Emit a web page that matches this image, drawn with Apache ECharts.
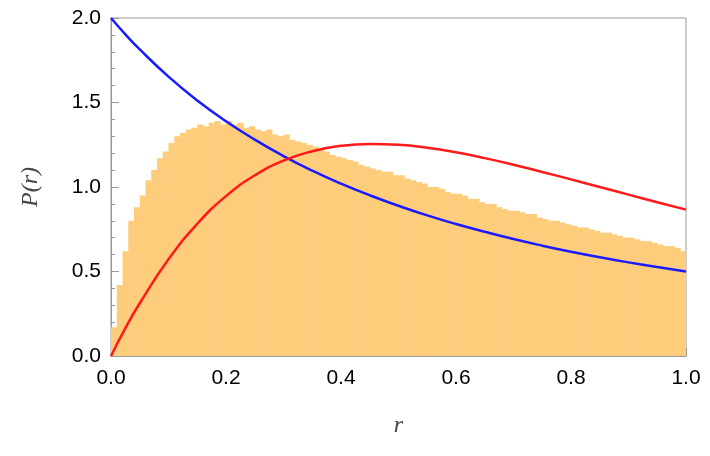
<!DOCTYPE html>
<html><head><meta charset="utf-8">
<script src="https://cdn.jsdelivr.net/npm/echarts@6/dist/echarts.min.js"></script>
<style>html,body{margin:0;padding:0;background:#fff}#c{width:710px;height:456px}</style>
</head><body><div id="c"></div>
<script>
const binStarts = [0,0.01,0.02,0.03,0.04,0.05,0.06,0.07,0.08,0.09,0.10,0.11,0.12,0.13,0.14,0.15,0.16,0.17,0.18,0.19,0.20,0.21,0.22,0.23,0.24,0.25,0.26,0.27,0.28,0.29,0.30,0.31,0.32,0.33,0.34,0.35,0.36,0.37,0.38,0.39,0.40,0.41,0.42,0.43,0.44,0.45,0.46,0.47,0.48,0.49,0.50,0.51,0.52,0.53,0.54,0.55,0.56,0.57,0.58,0.59,0.60,0.61,0.62,0.63,0.64,0.65,0.66,0.67,0.68,0.69,0.70,0.71,0.72,0.73,0.74,0.75,0.76,0.77,0.78,0.79,0.80,0.81,0.82,0.83,0.84,0.85,0.86,0.87,0.88,0.89,0.90,0.91,0.92,0.93,0.94,0.95,0.96,0.97,0.98,0.99];
const histHeights = [
.17,.42,.62,.80,.88,.95,1.04,1.10,1.17,1.21,
1.26,1.30,1.32,1.34,1.35,1.37,1.36,1.38,1.39,1.37,
1.39,1.37,1.38,1.35,1.36,1.34,1.33,1.34,1.31,1.30,
1.31,1.28,1.27,1.26,1.25,1.24,1.22,1.21,1.19,1.18,
1.17,1.16,1.15,1.13,1.12,1.11,1.10,1.09,1.09,1.07,
1.07,1.05,1.04,1.03,1.02,1.00,1.00,0.99,0.97,0.96,
0.96,0.95,0.93,0.93,0.91,0.90,0.90,0.88,0.87,0.86,
0.86,0.85,0.84,0.84,0.82,0.81,0.80,0.80,0.79,0.78,
0.77,0.76,0.76,0.75,0.74,0.73,0.73,0.72,0.71,0.70,
0.70,0.69,0.68,0.68,0.67,0.66,0.65,0.65,0.64,0.62];
const binWidth = 0.01;
const curveX = [0,0.025,0.05,0.1,0.15,0.2,0.25,0.3,0.35,0.4,0.45,0.5,0.55,0.6,0.65,0.7,0.75,0.8,0.85,0.9,0.95,1.0];
const blueY = [2,1.903,1.814,1.653,1.512,1.389,1.28,1.183,1.097,1.020,0.951,0.889,0.832,0.781,0.735,0.692,0.653,0.617,0.584,0.554,0.526,0.5];
const redY  = [0,0.165,0.312,0.572,0.782,0.946,1.069,1.156,1.212,1.244,1.255,1.250,1.232,1.205,1.171,1.132,1.089,1.045,1.000,0.955,0.910,0.866];
const xTicks = ['0.0','0.2','0.4','0.6','0.8','1.0'];
const yTicks = ['0.0','0.5','1.0','1.5','2.0'];

const chart = echarts.init(document.getElementById('c'));
const lab = {color:'#000',fontSize:21,fontFamily:'Liberation Sans, Arial'};
const axLine = {show:true,lineStyle:{color:'#999',width:1}};
chart.setOption({
  animation:false,
  grid:{left:111,right:24,top:18,bottom:100,show:true,borderColor:'#999',borderWidth:1},
  xAxis:{type:'value',min:0,max:1,interval:0.2,axisLine:axLine,splitLine:{show:false},
    axisTick:{inside:true,length:8,lineStyle:{color:'#999'}},
    minorTick:{show:true,splitNumber:4,length:4,lineStyle:{color:'#999'}},
    axisLabel:Object.assign({margin:12,formatter:(v)=>xTicks[Math.round(v/0.2)]},lab),
    name:'r',nameLocation:'middle',nameGap:58,nameTextStyle:{fontSize:24,fontStyle:'italic',fontFamily:'Liberation Serif, Times New Roman',color:'#444'}},
  yAxis:{type:'value',min:0,max:2,interval:0.5,axisLine:axLine,splitLine:{show:false},
    axisTick:{inside:true,length:8,lineStyle:{color:'#999'}},
    minorTick:{show:true,splitNumber:5,length:4,lineStyle:{color:'#999'}},
    axisLabel:Object.assign({margin:10,formatter:(v)=>yTicks[Math.round(v/0.5)]},lab),
    name:'P(r)',nameLocation:'middle',nameGap:68,nameRotate:90,nameTextStyle:{fontSize:24,fontStyle:'italic',fontFamily:'Liberation Serif, Times New Roman',color:'#444'}},
  series:[
    {type:'custom',clip:true,data:binStarts.map((x,i)=>[x,histHeights[i]]),
      renderItem:(params,api)=>{
        const p0=api.coord([api.value(0),api.value(1)]);
        const p1=api.coord([api.value(0)+binWidth,0]);
        return {type:'rect',shape:{x:p0[0],y:p0[1],width:p1[0]-p0[0]+0.5,height:p1[1]-p0[1]},style:{fill:'#fdcd7c'}};
      }},
    {type:'line',smooth:true,symbol:'none',data:curveX.map((x,i)=>[x,blueY[i]]),lineStyle:{color:'#1a1aff',width:2.5}},
    {type:'line',smooth:true,symbol:'none',data:curveX.map((x,i)=>[x,redY[i]]),lineStyle:{color:'#ff1a1a',width:2.5}}
  ]
});
</script></body></html>
